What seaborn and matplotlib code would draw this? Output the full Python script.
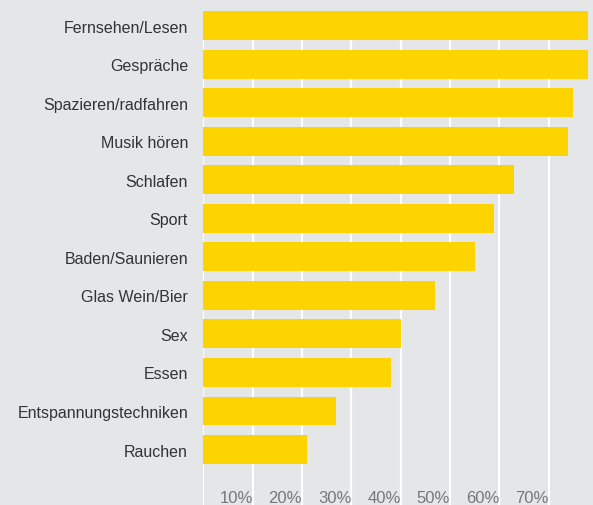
import pandas as pd
import matplotlib.pyplot as plt
import seaborn as sns

activities = ['Fernsehen/Lesen', 'Gespräche', 'Spazieren/radfahren', 'Musik hören',
              'Schlafen', 'Sport', 'Baden/Saunieren', 'Glas Wein/Bier', 'Sex',
              'Essen', 'Entspannungstechniken', 'Rauchen']
shares = [78, 78, 75, 74, 63, 59, 55, 47, 40, 38, 27, 21]
x_ticks = [10, 20, 30, 40, 50, 60, 70]
x_labels = ['10%', '20%', '30%', '40%', '50%', '60%', '70%']

if __name__ == '__main__':

    df = pd.DataFrame({'Aktivität': activities, 'Anteil': shares})

    sns.set_style('white')
    plt.rcParams['font.family'] = ['Liberation Sans', 'DejaVu Sans']

    bg = '#e5e6e8'
    fig = plt.figure(figsize=(5.93, 5.06), dpi=100, facecolor=bg)
    ax = fig.add_axes([203.3 / 593, 0, 1 - 203.3 / 593, 1])
    ax.set_facecolor(bg)

    # white grid lines behind the bars, starting at the first bar
    ax.vlines([0] + x_ticks, -0.375, 13, colors='white', linewidth=1.6, zorder=0)

    sns.barplot(data=df, x='Anteil', y='Aktivität', orient='h', color='#fdd400',
                width=0.75, saturation=1, linewidth=0, ax=ax, zorder=2)

    ax.set_xlim(0, 79)
    ax.set_ylim(12.44, -0.69)
    ax.set(xlabel='', ylabel='')
    for s in ax.spines.values():
        s.set_visible(False)

    ax.set_xticks(x_ticks, x_labels)
    ax.tick_params(axis='x', length=0, pad=-11, labelsize=12, labelcolor='#777777')
    for lbl in ax.get_xticklabels():
        lbl.set_ha('right')
    ax.tick_params(axis='y', length=0, pad=11, labelsize=11.5, labelcolor='#333333')

    plt.savefig('out.png', dpi=100, facecolor=bg)
